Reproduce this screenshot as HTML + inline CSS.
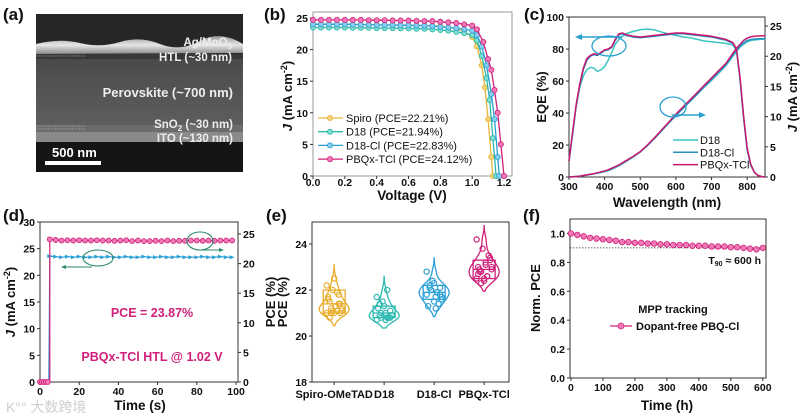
<!DOCTYPE html>
<html><head><meta charset="utf-8"><style>
html,body{margin:0;padding:0;background:#fff}
svg{display:block;font-family:"Liberation Sans",Arial,sans-serif}
text{font-family:"Liberation Sans","Noto Sans CJK SC",sans-serif}
</style></head><body>
<svg id="fig" width="802" height="419" viewBox="0 0 802 419" xmlns="http://www.w3.org/2000/svg">
<defs>
<linearGradient id="pv" x1="0" y1="0" x2="0" y2="1"><stop offset="0" stop-color="#4a4a4a"/><stop offset="1" stop-color="#5e5e5e"/></linearGradient>
<linearGradient id="ag" x1="0" y1="0" x2="0" y2="1"><stop offset="0" stop-color="#9a9a9a"/><stop offset="0.5" stop-color="#e6e6e6"/><stop offset="1" stop-color="#8a8a8a"/></linearGradient>
</defs>
<g>
<rect x="36" y="14" width="207" height="158" fill="#262626"/>
<path d="M36 44 Q60 38 80 43 T120 42 T160 44 T200 41 T243 44 L243 53 L36 54 Z" fill="url(#ag)"/>
<rect x="36" y="54" width="207" height="5" fill="#383838"/>
<rect x="36" y="59" width="207" height="66" fill="url(#pv)"/>
<rect x="36" y="125" width="207" height="7" fill="#6c6c6c"/>
<rect x="36" y="132" width="207" height="10" fill="#8a8a8a"/>
<rect x="36" y="142" width="207" height="30" fill="#151515"/>
<line x1="36" y1="126" x2="85" y2="126" stroke="#bbb" stroke-width="0.6" stroke-dasharray="2,1"/>
<line x1="36" y1="129" x2="85" y2="129" stroke="#bbb" stroke-width="0.6" stroke-dasharray="2,1"/>
<line x1="36" y1="56" x2="85" y2="56" stroke="#bbb" stroke-width="0.6" stroke-dasharray="2,1"/>
<g font-weight="bold" fill="#eee" text-anchor="end" font-size="11.5">
<text x="232" y="46">Ag/MoO<tspan font-size="8" dy="3">3</tspan></text>
<text x="232" y="61">HTL (~30 nm)</text>
<text x="233" y="97" font-size="13">Perovskite (~700 nm)</text>
<text x="233" y="128">SnO<tspan font-size="8" dy="3">2</tspan><tspan dy="-3"> (~30 nm)</tspan></text>
<text x="233" y="142">ITO (~130 nm)</text>
</g>
<text x="52" y="157" font-size="13" font-weight="bold" fill="#fff">500 nm</text>
<rect x="45" y="161" width="56" height="4" fill="#fff"/>
</g>
<g font-weight="bold" font-size="17" fill="#111">
<text x="3" y="20">(a)</text>
<text x="264" y="20">(b)</text>
<text x="524" y="20">(c)</text>
<text x="3" y="221">(d)</text>
<text x="266" y="221">(e)</text>
<text x="523" y="221">(f)</text>
</g>
<text x="6" y="412" font-size="14" fill="#cfcfcf">K°° 大数跨境</text>
</svg>
<script>
// ---------- data ----------
const jvVSpiro=[0,.05,.1,.15,.2,.25,.3,.35,.4,.45,.5,.55,.6,.65,.7,.75,.8,.85,.9,.95,1.0,1.03,1.06,1.08,1.1,1.12,1.13];
const jvJSpiro=[24.0,24.0,24.0,24.0,24.0,24.0,23.95,23.95,23.95,23.9,23.9,23.9,23.85,23.85,23.8,23.75,23.7,23.5,23.3,22.9,22.0,20.5,17.5,14,9,3,0];
const jvVD18=[0,.05,.1,.15,.2,.25,.3,.35,.4,.45,.5,.55,.6,.65,.7,.75,.8,.85,.9,.95,1.0,1.03,1.06,1.09,1.11,1.13,1.15];
const jvJD18=[23.5,23.5,23.5,23.5,23.5,23.45,23.45,23.45,23.4,23.4,23.4,23.35,23.35,23.3,23.3,23.2,23.1,23.0,22.8,22.6,22.3,21.4,19,15.5,12,6,0];
const jvVD18Cl=[0,.05,.1,.15,.2,.25,.3,.35,.4,.45,.5,.55,.6,.65,.7,.75,.8,.85,.9,.95,1.0,1.03,1.06,1.09,1.12,1.14,1.16,1.17];
const jvJD18Cl=[24.0,24.0,24.0,24.0,24.0,23.95,23.95,23.95,23.9,23.9,23.9,23.85,23.85,23.8,23.8,23.7,23.6,23.5,23.4,23.2,23.0,22.3,20.5,17.5,13,9,3,0];
const jvVPBQx=[0,.05,.1,.15,.2,.25,.3,.35,.4,.45,.5,.55,.6,.65,.7,.75,.8,.85,.9,.95,1.0,1.03,1.07,1.1,1.12,1.14,1.16,1.18,1.2];
const jvJPBQx=[24.7,24.7,24.7,24.7,24.7,24.7,24.7,24.65,24.65,24.65,24.6,24.6,24.6,24.55,24.5,24.5,24.4,24.3,24.2,24.0,23.8,23.2,21.2,18.5,16.8,13.6,10,5,0];
const jvLegend=["Spiro (PCE=22.21%)","D18 (PCE=21.94%)","D18-Cl (PCE=22.83%)","PBQx-TCl (PCE=24.12%)"];

const wl=[300,310,320,330,340,350,360,370,380,390,400,410,420,430,440,450,460,480,500,520,540,560,580,600,620,640,660,680,700,720,740,760,770,780,790,800,810,820,830,840,850];
const eqePBQx=[10,28,45,58,68,74,76,77,76.5,78,79.5,80,81.5,86,89.5,90,89,88,87.5,88,88.5,89,89.5,90,90,89.5,89,88.5,88,87,86,84,80,62,38,18,8,3,1,0.3,0];
const eqeD18Cl=[10,27,44,57,67,73,75.5,76.5,76,77.5,79,79.5,81,85.5,89,89.5,88.5,87.5,87,87.5,88,88.5,89,89.5,89.5,89,88.5,88,87.5,86.5,85.5,83.5,79.5,61,37,17,7.5,3,1,0.3,0];
const eqeD18=[10,27,44,56,63,67,68.5,68,66,67,69,73,78,83,86,88,89.5,91,92,92.5,92,90.5,89.5,88.5,87.5,87,86,85,84.5,84,83.5,82.5,79,61,37,17,7.5,3,1,0.3,0];
const jintPBQx=[0,0.03,0.08,0.15,0.25,0.35,0.45,0.57,0.7,0.85,1.0,1.2,1.45,1.7,2.0,2.35,2.7,3.4,4.2,5.3,6.5,7.8,9.1,10.4,11.6,12.8,14.0,15.2,16.4,17.6,18.8,20.5,21.3,22.0,22.6,23.0,23.2,23.3,23.35,23.4,23.4];
const jintD18Cl=[0,0.03,0.08,0.15,0.24,0.34,0.44,0.55,0.68,0.82,0.97,1.16,1.4,1.65,1.95,2.3,2.65,3.35,4.15,5.2,6.4,7.7,9.0,10.2,11.4,12.6,13.8,15.0,16.2,17.4,18.6,20.2,21.0,21.7,22.2,22.6,22.75,22.85,22.9,22.9,22.9];
const jintD18=[0,0.03,0.08,0.15,0.24,0.33,0.42,0.52,0.63,0.75,0.88,1.05,1.28,1.55,1.85,2.2,2.57,3.3,4.15,5.2,6.4,7.65,8.95,10.15,11.35,12.5,13.7,14.9,16.0,17.2,18.4,20.0,20.8,21.5,22.0,22.4,22.6,22.7,22.75,22.8,22.8];

const mppT=[5,8,11,14,17,20,23,26,29,32,35,38,41,44,47,50,53,56,59,62,65,68,71,74,77,80,83,86,89,92,95,98];
const mppJ=[23.6,23.5,23.4,23.5,23.4,23.5,23.4,23.4,23.5,23.4,23.5,23.4,23.4,23.5,23.4,23.4,23.5,23.4,23.4,23.5,23.4,23.4,23.5,23.4,23.4,23.4,23.5,23.4,23.4,23.5,23.4,23.4];
const mppPCE=[24.1,24.0,23.9,23.95,23.9,23.95,23.9,23.9,23.95,23.9,23.9,23.85,23.9,23.95,23.8,23.9,23.8,23.8,23.85,23.8,23.9,23.8,23.85,23.85,23.9,23.9,23.85,23.9,23.85,23.9,23.9,23.9];
const mppPreT=[0,1,2,3,4];

const statCats=["Spiro-OMeTAD","D18","D18-Cl","PBQx-TCl"];
const pceSpiro=[21.0,21.1,21.0,21.2,21.3,21.5,21.4,21.0,21.6,21.8,22.0,22.2,21.9,21.2,21.1,21.3,20.8,21.0,22.5,21.7,21.4,21.1];
const pceD18=[20.7,20.8,20.8,20.9,21.0,20.9,21.1,21.3,21.2,20.8,21.5,21.7,22.0,21.0,20.9,20.7,21.4,20.8];
const pceD18Cl=[21.8,21.9,22.0,21.6,21.7,22.2,22.1,21.5,21.3,21.4,22.4,22.8,21.9,22.0,21.7,21.2,22.1,21.8,22.3];
const pcePBQx=[22.5,22.6,22.8,23.0,23.2,22.9,23.3,22.4,22.7,23.5,23.8,24.2,22.6,22.3,22.9,23.1,22.8,23.4,22.5,23.0];
const boxQ1=[21.0,20.8,21.6,22.5];
const boxMed=[21.4,21.0,21.9,22.9];
const boxQ3=[22.0,21.3,22.2,23.3];

const stabT=[0,20,40,60,80,100,120,140,160,180,200,220,240,260,280,300,320,340,360,380,400,420,440,460,480,500,520,540,560,580,600];
const stabPCE=[1.0,0.99,0.98,0.97,0.965,0.96,0.955,0.95,0.94,0.94,0.935,0.935,0.93,0.93,0.925,0.925,0.92,0.92,0.92,0.915,0.915,0.915,0.91,0.91,0.91,0.905,0.905,0.9,0.895,0.89,0.9];

// ---------- helpers ----------
const NS="http://www.w3.org/2000/svg";
const svg=document.getElementById('fig');
function mk(tag,attrs,parent){const e=document.createElementNS(NS,tag);for(const k in attrs)e.setAttribute(k,attrs[k]);(parent||svg).appendChild(e);return e;}
function nm(el,n,i){
 
 
 return el;}
function txt(s,attrs,parent){const e=mk('text',attrs,parent);e.textContent=s;return e;}
function lin(a,b,c,d){return v=>c+(v-a)/(b-a)*(d-c);}
function axesBox(p,name,o){
 const g=nm(mk('g',{},p),name+'-axes');
 const sx=lin(o.xmin,o.xmax,o.px0,o.px1), sy=lin(o.ymin,o.ymax,o.py0,o.py1);
 nm(mk('rect',{x:o.px0,y:o.py1,width:o.px1-o.px0,height:o.py0-o.py1,fill:'none',stroke:o.frame||'#333','stroke-width':1},g),name+'-frame');
 if(o.xt){const xg=nm(mk('g',{},g),name+'-x-axis');
  o.xt.forEach((v,i)=>{const x=sx(v);mk('line',{x1:x,x2:x,y1:o.py0,y2:o.py0+3,stroke:'#333'},xg);
   if(o.xl){const t=txt(o.xl[i],{x:x,y:o.py0+(o.xly||13),'font-size':10.5,'font-weight':'bold','text-anchor':'middle',fill:'#111'},xg);nm(t,name+'-x-tick-label');}});}
 if(o.yt){const yg=nm(mk('g',{},g),name+'-y-axis');
  o.yt.forEach((v,i)=>{const y=sy(v);mk('line',{x1:o.px0-3,x2:o.px0,y1:y,y2:y,stroke:'#333'},yg);
   const t=txt(o.yl[i],{x:o.px0-5,y:y+4,'font-size':10.5,'font-weight':'bold','text-anchor':'end',fill:'#111'},yg);nm(t,name+'-y-tick-label');});}
 return {sx,sy,g};
}
function rightAxis(p,name,px1,py0,py1,ymin,ymax,ticks,labels){
 const sy=lin(ymin,ymax,py0,py1);const g=nm(mk('g',{},p),name+'-right-axis');
 ticks.forEach((v,i)=>{const y=sy(v);mk('line',{x1:px1,x2:px1+3,y1:y,y2:y,stroke:'#333'},g);
  const t=txt(labels[i],{x:px1+5,y:y+4,'font-size':10.5,'font-weight':'bold',fill:'#111'},g);nm(t,name+'-right-tick-label');});
 return sy;}
function vtitle(s,x,y,name,sz){const t=txt('',{x:0,y:0,'font-size':sz||13,'font-weight':'bold','text-anchor':'middle',fill:'#111',transform:`translate(${x},${y}) rotate(-90)`});t.innerHTML=s;nm(t,name);return t;}
function htitle(s,x,y,name){const t=txt(s,{x:x,y:y,'font-size':13.5,'font-weight':'bold','text-anchor':'middle',fill:'#111'});nm(t,name);return t;}
function polyline(xs,ys,sx,sy,color,w,parent,name){const d=xs.map((v,i)=>(i?'L':'M')+sx(v).toFixed(1)+' '+sy(ys[i]).toFixed(1)).join('');const p=mk('path',{d:d,fill:'none',stroke:color,'stroke-width':w||1.3},parent);nm(p,name);return p;}

// ---------- (b) J-V ----------
{
 const P=nm(mk('g',{}),'panel-b-jv-chart');
 const a=axesBox(P,'jv',{px0:313,px1:512,py0:176,py1:12,xmin:0,xmax:1.25,ymin:0,ymax:25.95,frame:'#999',xly:10,
  xt:[0,.2,.4,.6,.8,1.0,1.2],xl:['0.0','0.2','0.4','0.6','0.8','1.0','1.2'],yt:[0,5,10,15,20,25],yl:['0','5','10','15','20','25']});
 const ser=[[jvVSpiro,jvJSpiro,'#e9b43a','#f4d27a'],[jvVD18,jvJD18,'#2bb8a6','#7fdccf'],[jvVD18Cl,jvJD18Cl,'#2a9fd6','#86cdf0'],[jvVPBQx,jvJPBQx,'#d0207a','#ef7ab5']];
 ser.forEach((s,k)=>{const g=nm(mk('g',{},P),'jv-series-'+['spiro','d18','d18-cl','pbqx-tcl'][k]);
  polyline(s[0],s[1],a.sx,a.sy,s[2],1.3,g,'jv-line');
  s[0].forEach((v,i)=>{const c=mk('circle',{cx:a.sx(v),cy:a.sy(s[1][i]),r:2.6,fill:s[3],stroke:s[2],'stroke-width':0.8},g);nm(c,'jv-marker');});});
 vtitle('<tspan font-style="italic">J</tspan> (mA cm<tspan font-size="9" dy="-5">-2</tspan><tspan dy="5">)</tspan>',292,96,'jv-y-axis-title');
 htitle('Voltage (V)',412,200,'jv-x-axis-title');
 const L=nm(mk('g',{},P),'jv-legend');
 jvLegend.forEach((s,k)=>{const y=118+k*13.7;const e=nm(mk('g',{},L),'jv-legend-entry');
  mk('line',{x1:318,x2:343,y1:y,y2:y,stroke:ser[k][2],'stroke-width':1.3},e);
  mk('circle',{cx:330,cy:y,r:2.6,fill:ser[k][3],stroke:ser[k][2],'stroke-width':0.8},e);
  txt(s,{x:346,y:y+4,'font-size':11,fill:'#111'},e);});
}
// ---------- (c) EQE ----------
{
 const P=nm(mk('g',{}),'panel-c-eqe-chart');
 const a=axesBox(P,'eqe',{px0:569,px1:765,py0:177,py1:17,xmin:300,xmax:850,ymin:0,ymax:100,
  xt:[300,400,500,600,700,800],xl:['300','400','500','600','700','800'],yt:[0,20,40,60,80,100],yl:['0','20','40','60','80','100']});
 const syR=rightAxis(P,'eqe',765,177,17,0,26.5,[0,5,10,15,20,25],['0','5','10','15','20','25']);
 const cols=['#3cc4c0','#2a8fc4','#c8186e'];
 const eq=[eqeD18,eqeD18Cl,eqePBQx], ji=[jintD18,jintD18Cl,jintPBQx], nms=['d18','d18-cl','pbqx-tcl'];
 for(let k=0;k<3;k++){const g=nm(mk('g',{},P),'eqe-series-'+nms[k]);
  polyline(wl,eq[k],a.sx,a.sy,cols[k],1.5,g,'eqe-line');
  polyline(wl,ji[k],a.sx,syR,cols[k],1.5,g,'integrated-j-line');}
 vtitle('EQE (%)',546,97,'eqe-y-axis-title');
 vtitle('<tspan font-style="italic">J</tspan> (mA cm<tspan font-size="9" dy="-5">-2</tspan><tspan dy="5">)</tspan>',797,97,'eqe-right-axis-title');
 htitle('Wavelength (nm)',667,207,'eqe-x-axis-title');
 const an=nm(mk('g',{},P),'eqe-annotations');
 mk('ellipse',{cx:609,cy:46,rx:17,ry:10,fill:'none',stroke:'#2aa0d0','stroke-width':1.3},an);
 mk('line',{x1:622,y1:37,x2:580,y2:37,stroke:'#2aa0d0','stroke-width':1.5},an);
 mk('path',{d:'M575 37 L582 34 L582 40 Z',fill:'#2aa0d0'},an);
 mk('ellipse',{cx:673,cy:107,rx:13,ry:10,fill:'none',stroke:'#2aa0d0','stroke-width':1.3},an);
 mk('line',{x1:672,y1:115,x2:701,y2:115,stroke:'#2aa0d0','stroke-width':1.5},an);
 mk('path',{d:'M706 115 L699 112 L699 118 Z',fill:'#2aa0d0'},an);
 const L=nm(mk('g',{},P),'eqe-legend');
 ['D18','D18-Cl','PBQx-TCl'].forEach((s,k)=>{const y=140+k*12.3;const e=nm(mk('g',{},L),'eqe-legend-entry');
  mk('line',{x1:673,x2:698,y1:y,y2:y,stroke:cols[k],'stroke-width':1.5},e);
  txt(s,{x:700,y:y+4,'font-size':11,fill:'#111'},e);});
}
// ---------- (d) MPP ----------
{
 const P=nm(mk('g',{}),'panel-d-mpp-chart');
 const a=axesBox(P,'mpp',{px0:40,px1:238,py0:382,py1:222,xmin:0,xmax:101,ymin:0,ymax:30,
  xt:[0,20,40,60,80,100],xl:['0','20','40','60','80','100'],yt:[0,5,10,15,20,25,30],yl:['0','5','10','15','20','25','30']});
 const syR=rightAxis(P,'mpp',238,382,222,0,27.03,[0,5,10,15,20,25],['0','5','10','15','20','25']);
 const gJ=nm(mk('g',{},P),'mpp-current-series');
 polyline([4.5].concat(mppT),[0].concat(mppJ),a.sx,a.sy,'#2a9fd6',1.2,gJ,'mpp-current-line');
 mppT.forEach((t,i)=>{const c=mk('path',{d:`M${a.sx(t)-2.5} ${a.sy(mppJ[i])-2}L${a.sx(t)+2.5} ${a.sy(mppJ[i])}L${a.sx(t)-2.5} ${a.sy(mppJ[i])+2}Z`,fill:'#2a9fd6'},gJ);nm(c,'mpp-current-marker');});
 const gP=nm(mk('g',{},P),'mpp-pce-series');
 polyline(mppPreT.concat([5]).concat(mppT),mppPreT.map(()=>0).concat([0]).concat(mppPCE),a.sx,syR,'#d0207a',1.2,gP,'mpp-pce-line');
 mppT.concat(mppPreT).forEach((t,i)=>{const v=i<mppT.length?mppPCE[i]:0;const c=mk('circle',{cx:a.sx(t),cy:syR(v),r:2.5,fill:'#ef7ab5',stroke:'#d0207a','stroke-width':0.8},gP);nm(c,'mpp-pce-marker');});
 vtitle('<tspan font-style="italic">J</tspan> (mA cm<tspan font-size="9" dy="-5">-2</tspan><tspan dy="5">)</tspan>',15,302,'mpp-y-axis-title');
 vtitle('PCE (%)',275,302,'mpp-right-axis-title');
 vtitle('PCE (%)',287,302,'stat-y-axis-title');
 htitle('Time (s)',140,410,'mpp-x-axis-title');
 nm(txt('PCE = 23.87%',{x:152,y:317,'font-size':12.5,'font-weight':'bold','text-anchor':'middle',fill:'#d0207a'},P),'pce-annotation');
 nm(txt('PBQx-TCl HTL @ 1.02 V',{x:152,y:361,'font-size':12.5,'font-weight':'bold','text-anchor':'middle',fill:'#d0207a'},P),'htl-bias-annotation');
 const an=nm(mk('g',{},P),'mpp-annotations');
 mk('ellipse',{cx:98,cy:258,rx:15,ry:8,fill:'none',stroke:'#2a8a70','stroke-width':1.1},an);
 mk('line',{x1:92,y1:267,x2:64,y2:267,stroke:'#2a8a70','stroke-width':1.1},an);
 mk('path',{d:'M61 267 L66 265 L66 269 Z',fill:'#2a8a70'},an);
 mk('ellipse',{cx:200,cy:241,rx:13,ry:9,fill:'none',stroke:'#2a8a70','stroke-width':1.1},an);
 mk('line',{x1:203,y1:250,x2:221,y2:250,stroke:'#2a8a70','stroke-width':1.1},an);
 mk('path',{d:'M224 250 L219 248 L219 252 Z',fill:'#2a8a70'},an);
}
// ---------- (e) statistics ----------
{
 const P=nm(mk('g',{}),'panel-e-pce-statistics');
 const a=axesBox(P,'stat',{px0:312,px1:509,py0:382,py1:222,xmin:0,xmax:4,ymin:18,ymax:24.96,
  yt:[18,20,22,24],yl:['18','20','22','24']});
 const sets=[pceSpiro,pceD18,pceD18Cl,pcePBQx];
 const cols=['#e8ac2a','#2bb8b0','#2a9fd6','#d0207a'];
 const cx=i=>a.sx(0.45+i*1.015);
 statCats.forEach((c,i)=>{const x=cx(i);mk('line',{x1:x,x2:x,y1:382,y2:385,stroke:'#333'},a.g);
  nm(txt(c,{x:x,y:398,'font-size':11,'font-weight':'bold','text-anchor':'middle',fill:'#111'},P),'stat-category-label');});
 sets.forEach((d,i)=>{const g=nm(mk('g',{},P),'stat-group-'+statCats[i].toLowerCase());const x=cx(i),col=cols[i];
  const lo=Math.min(...d)-0.35,hi=Math.max(...d)+0.6;const bw=0.22;const pts=[];let mx=0;
  for(let v=lo;v<=hi+1e-9;v+=0.05){let s=0;d.forEach(u=>{s+=Math.exp(-0.5*((v-u)/bw)**2);});pts.push([v,s]);if(s>mx)mx=s;}
  const W=15;const right=pts.map(p=>`${(x+p[1]/mx*W).toFixed(1)} ${a.sy(p[0]).toFixed(1)}`),left=pts.slice().reverse().map(p=>`${(x-p[1]/mx*W).toFixed(1)} ${a.sy(p[0]).toFixed(1)}`);
  nm(mk('path',{d:'M'+right.join('L')+'L'+left.join('L')+'Z',fill:'none',stroke:col,'stroke-width':1.3},g),'violin');
  nm(mk('rect',{x:x-11,y:a.sy(boxQ3[i]),width:22,height:a.sy(boxQ1[i])-a.sy(boxQ3[i]),fill:'none',stroke:col,'stroke-width':1.3},g),'box');
  nm(mk('line',{x1:x-11,x2:x+11,y1:a.sy(boxMed[i]),y2:a.sy(boxMed[i]),stroke:col,'stroke-width':1.3},g),'box-median');
  d.forEach((v,j)=>{const off=((j*7)%11-5)*1.5;nm(mk('circle',{cx:x+off,cy:a.sy(v),r:2.6,fill:'none',stroke:col,'stroke-width':1.2},g),'pce-point');});});
}
// ---------- (f) stability ----------
{
 const P=nm(mk('g',{}),'panel-f-stability-chart');
 const a=axesBox(P,'stab',{px0:570,px1:766,py0:378,py1:219,xmin:-3,xmax:610,ymin:0,ymax:1.1,
  xt:[0,100,200,300,400,500,600],xl:['0','100','200','300','400','500','600'],yt:[0,.2,.4,.6,.8,1.0],yl:['0.0','0.2','0.4','0.6','0.8','1.0']});
 nm(mk('line',{x1:570,x2:766,y1:a.sy(0.9),y2:a.sy(0.9),stroke:'#333','stroke-width':0.8,'stroke-dasharray':'1.5,1.5'},P),'t90-reference-line');
 const g=nm(mk('g',{},P),'stability-series');
 polyline(stabT,stabPCE,a.sx,a.sy,'#d0207a',1.2,g,'stability-line');
 stabT.forEach((t,i)=>{nm(mk('circle',{cx:a.sx(t),cy:a.sy(stabPCE[i]),r:2.8,fill:'#ef7ab5',stroke:'#d0207a','stroke-width':0.8},g),'stability-marker');});
 vtitle('Norm. PCE',540,298,'stab-y-axis-title');
 htitle('Time (h)',667,410,'stab-x-axis-title');
 const t=txt('',{x:761,y:264,'font-size':10.5,'font-weight':'bold','text-anchor':'end',fill:'#111'},P);t.innerHTML='T<tspan font-size="7" dy="2">90</tspan><tspan dy="-2"> ≈ 600 h</tspan>';nm(t,'t90-annotation');
 nm(txt('MPP tracking',{x:673,y:313,'font-size':11,'font-weight':'bold','text-anchor':'middle',fill:'#111'},P),'mpp-tracking-label');
 const L=nm(mk('g',{},P),'stab-legend');
 mk('line',{x1:610,x2:632,y1:326,y2:326,stroke:'#d0207a','stroke-width':1.3},L);
 mk('circle',{cx:621,cy:326,r:3,fill:'#ef7ab5',stroke:'#d0207a','stroke-width':0.8},L);
 txt('Dopant-free PBQ-Cl',{x:636,y:330,'font-size':11,'font-weight':'bold',fill:'#111'},L);
}
</script>
</body></html>
